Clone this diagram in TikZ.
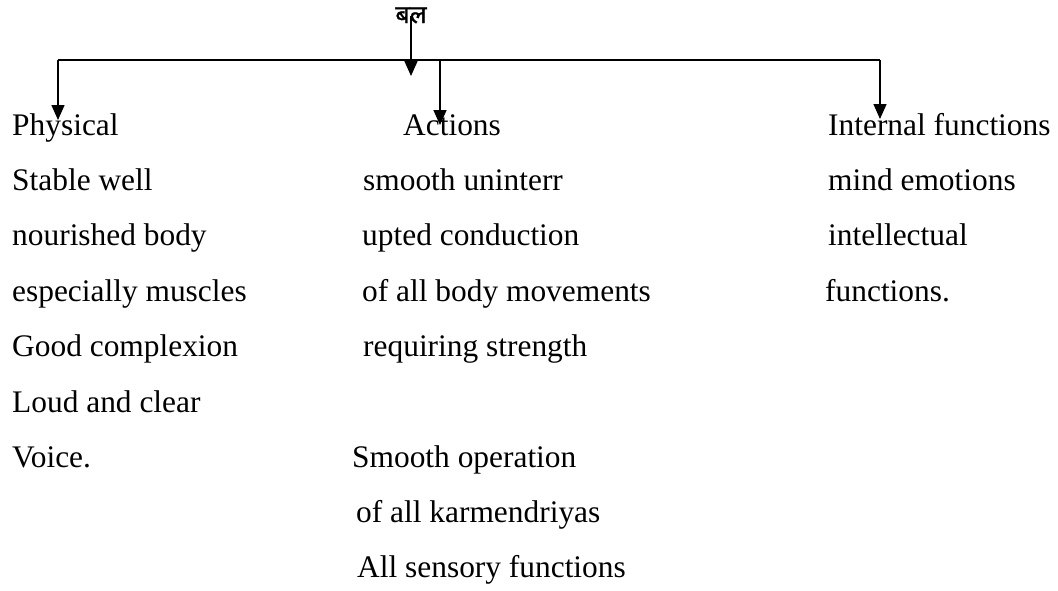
\documentclass[tikz,border=0pt]{standalone}
\usepackage{fontspec}
\setmainfont{Liberation Serif}
\newfontfamily\devfont[Script=Devanagari,FakeBold=1.2]{Noto Sans}
\usetikzlibrary{arrows.meta}
\begin{document}
\begin{tikzpicture}[x=1pt,y=-1pt,
  txt/.style={anchor=base west,inner sep=0pt,font=\fontsize{31.4}{37}\selectfont},
  conn/.style={line width=1.5pt},
  arr/.style={conn,-{Triangle[width=13pt,length=15pt]}}]
\useasboundingbox (0,0) rectangle (1058,590);
% title
\node[anchor=base,inner sep=0pt,font=\devfont\fontsize{25}{28}\selectfont] (bal) at (411,23) {बल};
% junction coordinates
\coordinate (hl) at (58,60);
\coordinate (hr) at (880,60);
\coordinate (hm) at (440,60);
\coordinate (tbal) at (411,76);
\coordinate (tphys) at (58,120);
\coordinate (tact) at (440,125);
\coordinate (tint) at (880,119);
% column 1
\node[txt] (phys) at (12,135) {Physical};
\node[txt] (p1) at (12,190) {Stable well};
\node[txt] (p2) at (12,245) {nourished body};
\node[txt] (p3) at (12,301) {especially muscles};
\node[txt] (p4) at (12,356) {Good complexion};
\node[txt] (p5) at (12,412) {Loud and clear};
\node[txt] (p6) at (12,467) {Voice.};
% column 2
\node[txt] (act) at (403,135) {Actions};
\node[txt] (a1) at (363,190) {smooth uninterr};
\node[txt] (a2) at (362,245) {upted conduction};
\node[txt] (a3) at (362,301) {of all body movements};
\node[txt] (a4) at (363,356) {requiring strength};
\node[txt] (a5) at (352,467) {Smooth operation};
\node[txt] (a6) at (356,522) {of all karmendriyas};
\node[txt] (a7) at (357,577) {All sensory functions};
% column 3
\node[txt] (int) at (828,135) {Internal functions};
\node[txt] (i1) at (828,190) {mind emotions};
\node[txt] (i2) at (828,245) {intellectual};
\node[txt] (i3) at (825,301) {functions.};
% connectors
\draw[conn] (hl) -- (hr);
\draw[arr] ([yshift=-1pt]bal.center) -- (tbal);
\draw[arr] (hl) -- (tphys);
\draw[arr] (hm) -- (tact);
\draw[arr] (hr) -- (tint);
\end{tikzpicture}
\end{document}
